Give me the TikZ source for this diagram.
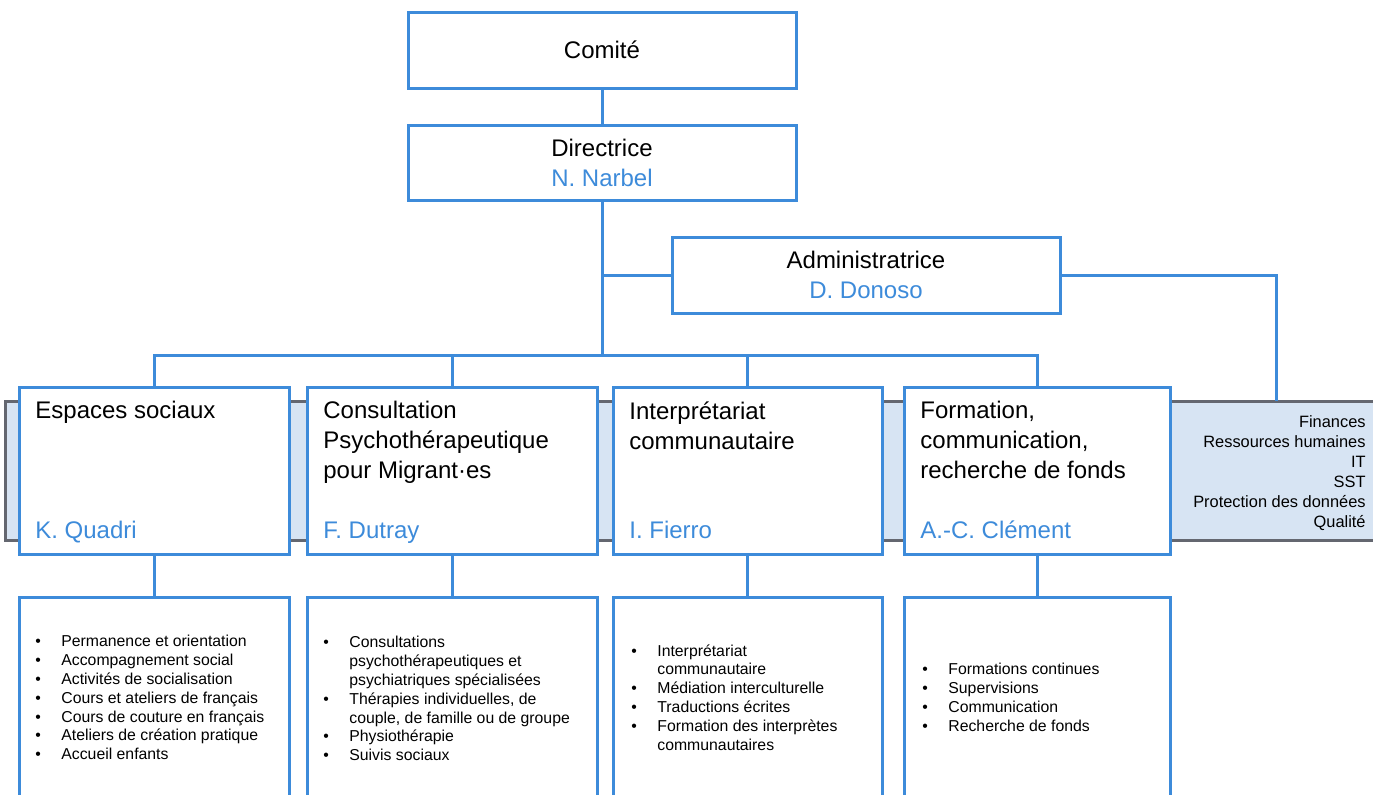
\documentclass[tikz,border=0pt]{standalone}
\usepackage{fontspec}
\setmainfont{Liberation Sans}
\usetikzlibrary{positioning}

\definecolor{orgblue}{RGB}{61,139,218}
\definecolor{bandfill}{RGB}{215,228,243}
\definecolor{bandgray}{RGB}{100,103,112}

\tikzset{
  box/.style={draw=orgblue, line width=1.5pt, fill=white, rectangle, inner sep=0pt},
  link/.style={draw=orgblue, line width=1.5pt},
  head/.style={font=\fontsize{12}{15}\selectfont, align=center},
  title/.style={font=\fontsize{12}{15}\selectfont, align=left, inner sep=0pt, anchor=north west},
  who/.style={font=\fontsize{12}{15}\selectfont, text=orgblue, inner sep=0pt, anchor=base west},
  list/.style={font=\fontsize{7.9}{9.4}\selectfont, align=left, inner sep=0pt, anchor=north west},
}
\newcommand{\bul}{\makebox[13pt][l]{\textbullet}}
\newcommand{\ind}{\hspace*{13pt}}

\begin{document}
\begin{tikzpicture}[x=0.5pt,y=-0.5pt]
\useasboundingbox (0,0) rectangle (1373,794);
\clip (0,0) rectangle (1373,794);

% band behind the departments
\draw[draw=bandgray, fill=bandfill, line width=1.5pt] (5,401) rectangle (1400,540);
\node[list, anchor=north east, align=right, font=\fontsize{8.2}{10}\selectfont] (support) at (1366,415)
  {Finances\\Ressources humaines\\IT\\SST\\Protection des données\\Qualité};

% top of the chart
\node[box, head, minimum width=194pt, minimum height=38pt] (comite) at (602,50) {Comité};
\node[box, head, minimum width=194pt, minimum height=37.5pt] (dir) at (602,162.5)
  {Directrice\\\textcolor{orgblue}{N. Narbel}};
\node[box, head, minimum width=194pt, minimum height=38pt] (adm) at (866,275)
  {Administratrice\\\textcolor{orgblue}{D. Donoso}};

% departments
\node[box, minimum width=135pt, minimum height=83.5pt] (esp) at (154,470.5) {};
\node[box, minimum width=145pt, minimum height=83.5pt] (cons) at (452,470.5) {};
\node[box, minimum width=134.5pt, minimum height=83.5pt] (interp) at (747.5,470.5) {};
\node[box, minimum width=133pt, minimum height=83.5pt] (form) at (1037,470.5) {};

\node[title] (esp-t) at (35,401) {Espaces sociaux};
\node[title] (cons-t) at (323,401) {Consultation\\Psychothérapeutique\\pour Migrant·es};
\node[title] (interp-t) at (629,401) {Interprétariat\\communautaire};
\node[title] (form-t) at (920,401) {Formation,\\communication,\\recherche de fonds};

\node[who] (esp-n) at (35,538) {K. Quadri};
\node[who] (cons-n) at (323,538) {F. Dutray};
\node[who] (interp-n) at (629,538) {I. Fierro};
\node[who] (form-n) at (920,538) {A.-C. Clément};

% tasks
\node[box, minimum width=135pt, minimum height=116.5pt] (esp-tasks) at (154,713.5) {};
\node[box, minimum width=145pt, minimum height=116.5pt] (cons-tasks) at (452,713.5) {};
\node[box, minimum width=134.5pt, minimum height=116.5pt] (interp-tasks) at (747.5,713.5) {};
\node[box, minimum width=133pt, minimum height=116.5pt] (form-tasks) at (1037,713.5) {};

\node[list] (esp-l) at (35,635) {\bul Permanence et orientation\\\bul Accompagnement social\\
  \bul Activités de socialisation\\\bul Cours et ateliers de français\\
  \bul Cours de couture en français\\\bul Ateliers de création pratique\\\bul Accueil enfants};
\node[list] (cons-l) at (323,636) {\bul Consultations\\\ind psychothérapeutiques et\\
  \ind psychiatriques spécialisées\\\bul Thérapies individuelles, de\\
  \ind couple, de famille ou de groupe\\\bul Physiothérapie\\\bul Suivis sociaux};
\node[list] (interp-l) at (631,644) {\bul Interprétariat\\\ind communautaire\\
  \bul Médiation interculturelle\\\bul Traductions écrites\\
  \bul Formation des interprètes\\\ind communautaires};
\node[list] (form-l) at (922,663) {\bul Formations continues\\\bul Supervisions\\
  \bul Communication\\\bul Recherche de fonds};

% connectors
\coordinate (bus) at (602,355);
\coordinate (sup) at (1276,401);
\draw[link] (comite) -- (dir);
\draw[link] (dir) -- (bus);
\draw[link] (adm.west) -- (adm.west -| dir.south);
\draw[link] (adm.east) -| (sup);
\draw[link] (esp.north) |- (bus) -| (form.north);
\draw[link] (cons.north) -- (cons.north |- bus);
\draw[link] (interp.north) -- (interp.north |- bus);
\foreach \d in {esp,cons,interp,form}
  \draw[link] (\d.south) -- (\d-tasks.north);
\end{tikzpicture}
\end{document}
